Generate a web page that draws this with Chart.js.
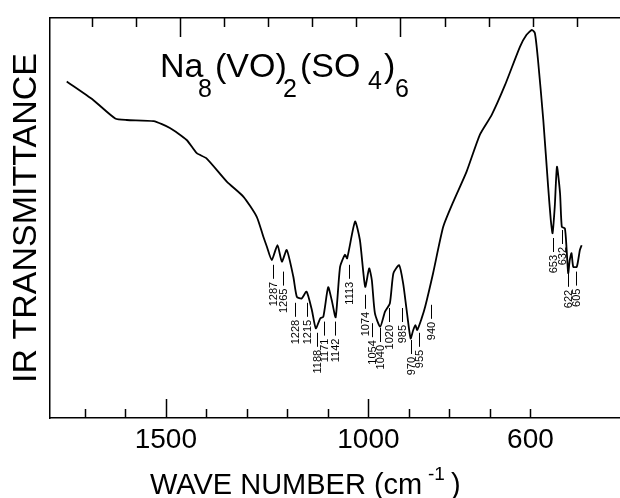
<!DOCTYPE html>
<html>
<head>
<meta charset="utf-8">
<title>IR spectrum of Na8(VO)2(SO4)6</title>
<script src="https://cdn.jsdelivr.net/npm/chart.js@4.4.1/dist/chart.umd.min.js"></script>
<style>
  html, body { margin: 0; padding: 0; background: #fff; }
  #irChart { display: block; }
</style>
</head>
<body>
<canvas id="irChart" width="620" height="498"></canvas>
<script>
// traced spectrum, left to right (wave number in cm-1)
var waveNumbers = [
  1757, 1697, 1647, 1621, 1560, 1523, 1485, 1462, 1440, 1394,
  1356, 1326, 1311, 1303, 1292, 1279, 1269, 1258, 1243, 1235,
  1224, 1213, 1201, 1192, 1182, 1175, 1164, 1156, 1147, 1137,
  1126, 1121, 1103, 1092, 1080, 1071, 1065, 1058, 1046, 1035,
  1024, 1016, 1003, 994, 986, 977, 971, 966, 962, 952,
  944, 926, 903, 880, 850, 820, 793, 763, 729, 714,
  702, 695, 688, 676, 665, 659, 655, 650, 645, 638,
  634, 627, 623, 619.5, 616, 612, 608, 600, 593, 589
];
// transmittance in arbitrary units (0 = bottom of frame, 100 = top)
var transmittance = [
  84.1, 79.5, 74.9, 74.5, 74.2, 72.5, 69.5, 66.2, 64.9, 59.1,
  55.3, 50.3, 45.3, 42.8, 39.5, 43.2, 39.1, 42.0, 35.3, 30.3,
  29.9, 31.6, 27.0, 22.4, 24.9, 25.3, 32.7, 29.5, 25.2, 37.8,
  40.8, 39.9, 49.1, 44.5, 32.8, 37.4, 34.5, 26.2, 22.8, 26.6,
  28.7, 36.2, 38.2, 33.7, 27.0, 19.9, 22.0, 23.2, 22.0, 24.9,
  27.8, 36.2, 47.8, 54.1, 61.6, 70.8, 75.8, 83.2, 92.8, 95.8,
  97.0, 96.2, 89.5, 74.5, 57.8, 49.5, 46.2, 52.8, 62.8, 56.2,
  47.8, 47.4, 42.0, 36.2, 39.5, 41.2, 37.8, 37.8, 42.0, 43.2
];
// band markers: text, where the marker stands, and the level its dash starts
var bandLabels = ['1287', '1265', '1228', '1215', '1188', '1171', '1142', '1113', '1074', '1054',
  '1040', '1020', '985', '970', '955', '940', '653', '632', '622', '605'];
var bandAt = [1289, 1266.6, 1238.6, 1212, 1189.3, 1172.7, 1147.7, 1117.5, 1079.5, 1064.3,
  1045.5, 1026.6, 996.1, 975.7, 958.4, 930.2, 653.9, 632.5, 618.9, 602.3];
var bandLevel = [38.3, 36.6, 28.8, 28.8, 21.3, 24.1, 24.1, 38.3, 30.8, 23.7,
  22.5, 27.5, 27.5, 19.5, 21.3, 28.3, 45.0, 47.0, 36.3, 36.6];
// tick marks on both wave number axes, and the ones that carry a number
var tickValues = [1700, 1600, 1500, 1400, 1300, 1200, 1100, 1000, 900, 800, 700, 600];
var majorTicks = [1500, 1000];
var axisLabels = [1500, 1000, 600];

var FONT = "'Liberation Sans', Arial, Helvetica, sans-serif";

var points = waveNumbers.map(function(w, i) {
  return { x: w, y: transmittance[i] };
});

var useTickValues = function(scale) {
  scale.ticks = tickValues.map(function(v) { return { value: v }; });
};

// inward tick marks, the formula, the band markers and the x title
var decorations = {
  id: 'decorations',
  afterDraw: function(chart) {
    var ctx = chart.ctx;
    var area = chart.chartArea;
    var xb = chart.scales.x;
    var xt = chart.scales.xTop;
    var ys = chart.scales.y;
    ctx.save();
    ctx.strokeStyle = '#000';
    ctx.fillStyle = '#000';
    ctx.lineWidth = 1.5;

    var drawTicks = function(scale, fromY, dir) {
      scale.ticks.forEach(function(t) {
        var len = majorTicks.indexOf(t.value) >= 0 ? 19 : 9;
        var px = Math.round(scale.getPixelForValue(t.value)) + 0.5;
        ctx.beginPath();
        ctx.moveTo(px, fromY);
        ctx.lineTo(px, fromY + dir * len);
        ctx.stroke();
      });
    };
    drawTicks(xb, area.bottom, -1);
    drawTicks(xt, area.top, 1);

    // Na8(VO)2(SO4)6
    ctx.textAlign = 'left';
    ctx.textBaseline = 'alphabetic';
    var parts = [
      ['Na', 160, 77, 34], ['8', 198, 97, 25], ['(VO)', 215, 77, 34], ['2', 283, 97, 25],
      ['(SO', 300, 77, 34], ['4', 368, 89, 25], [')', 384, 77, 34], ['6', 395, 97, 25]
    ];
    parts.forEach(function(p) {
      ctx.font = p[3] + 'px ' + FONT;
      ctx.fillText(p[0], p[1], p[2]);
    });

    // band markers
    ctx.lineWidth = 1;
    ctx.font = '11px ' + FONT;
    bandLabels.forEach(function(label, i) {
      var px = Math.round(xt.getPixelForValue(bandAt[i])) + 0.5;
      var py = ys.getPixelForValue(bandLevel[i]);
      ctx.beginPath();
      ctx.moveTo(px, py);
      ctx.lineTo(px, py + 14);
      ctx.stroke();
      ctx.save();
      ctx.translate(px, py + 17);
      ctx.rotate(-Math.PI / 2);
      ctx.textAlign = 'right';
      ctx.textBaseline = 'middle';
      ctx.fillText(label, 0, 0);
      ctx.restore();
    });

    // WAVE NUMBER (cm-1)
    ctx.textAlign = 'left';
    ctx.textBaseline = 'alphabetic';
    ctx.font = '29px ' + FONT;
    ctx.fillText('WAVE NUMBER (cm', 150, 494);
    ctx.font = '19px ' + FONT;
    ctx.fillText('-1', 428, 480);
    ctx.font = '29px ' + FONT;
    ctx.fillText(')', 451, 494);
    ctx.restore();
  }
};

var irChart = new Chart(document.getElementById('irChart'), {
  type: 'line',
  data: {
    datasets: [
      {
        label: 'Na8(VO)2(SO4)6',
        data: points,
        xAxisID: 'xTop',
        yAxisID: 'y',
        borderColor: '#000',
        borderWidth: 1.8,
        pointRadius: 0,
        tension: 0.2,
        fill: false
      }
    ]
  },
  options: {
    responsive: false,
    animation: false,
    devicePixelRatio: 1,
    layout: { padding: 0 },
    plugins: {
      legend: { display: false },
      tooltip: { enabled: false }
    },
    scales: {
      x: {
        type: 'linear',
        position: 'bottom',
        reverse: true,
        min: 379,
        max: 1786,
        afterBuildTicks: useTickValues,
        afterFit: function(scale) { scale.height = 80; },
        grid: { display: false, drawTicks: false, tickLength: 0 },
        border: { display: true, color: '#000', width: 1.5 },
        ticks: {
          autoSkip: false,
          maxRotation: 0,
          padding: 5,
          color: '#000',
          font: { family: FONT, size: 28 },
          callback: function(v) { return axisLabels.indexOf(v) >= 0 ? String(v) : ''; }
        }
      },
      xTop: {
        type: 'linear',
        position: 'top',
        reverse: true,
        min: 502,
        max: 1795,
        afterBuildTicks: useTickValues,
        afterFit: function(scale) { scale.height = 18; },
        grid: { display: false, drawTicks: false, tickLength: 0 },
        border: { display: true, color: '#000', width: 1.5 },
        ticks: { display: false }
      },
      y: {
        type: 'linear',
        position: 'left',
        min: 0,
        max: 100,
        afterFit: function(scale) { scale.width = 50; },
        grid: { display: false, drawTicks: false, tickLength: 0 },
        border: { display: true, color: '#000', width: 1.5 },
        ticks: { display: false },
        title: {
          display: true,
          text: 'IR TRANSMITTANCE',
          color: '#000',
          font: { family: FONT, size: 34 },
          padding: { top: 6, bottom: 0 }
        }
      }
    }
  },
  plugins: [decorations]
});
</script>
</body>
</html>
